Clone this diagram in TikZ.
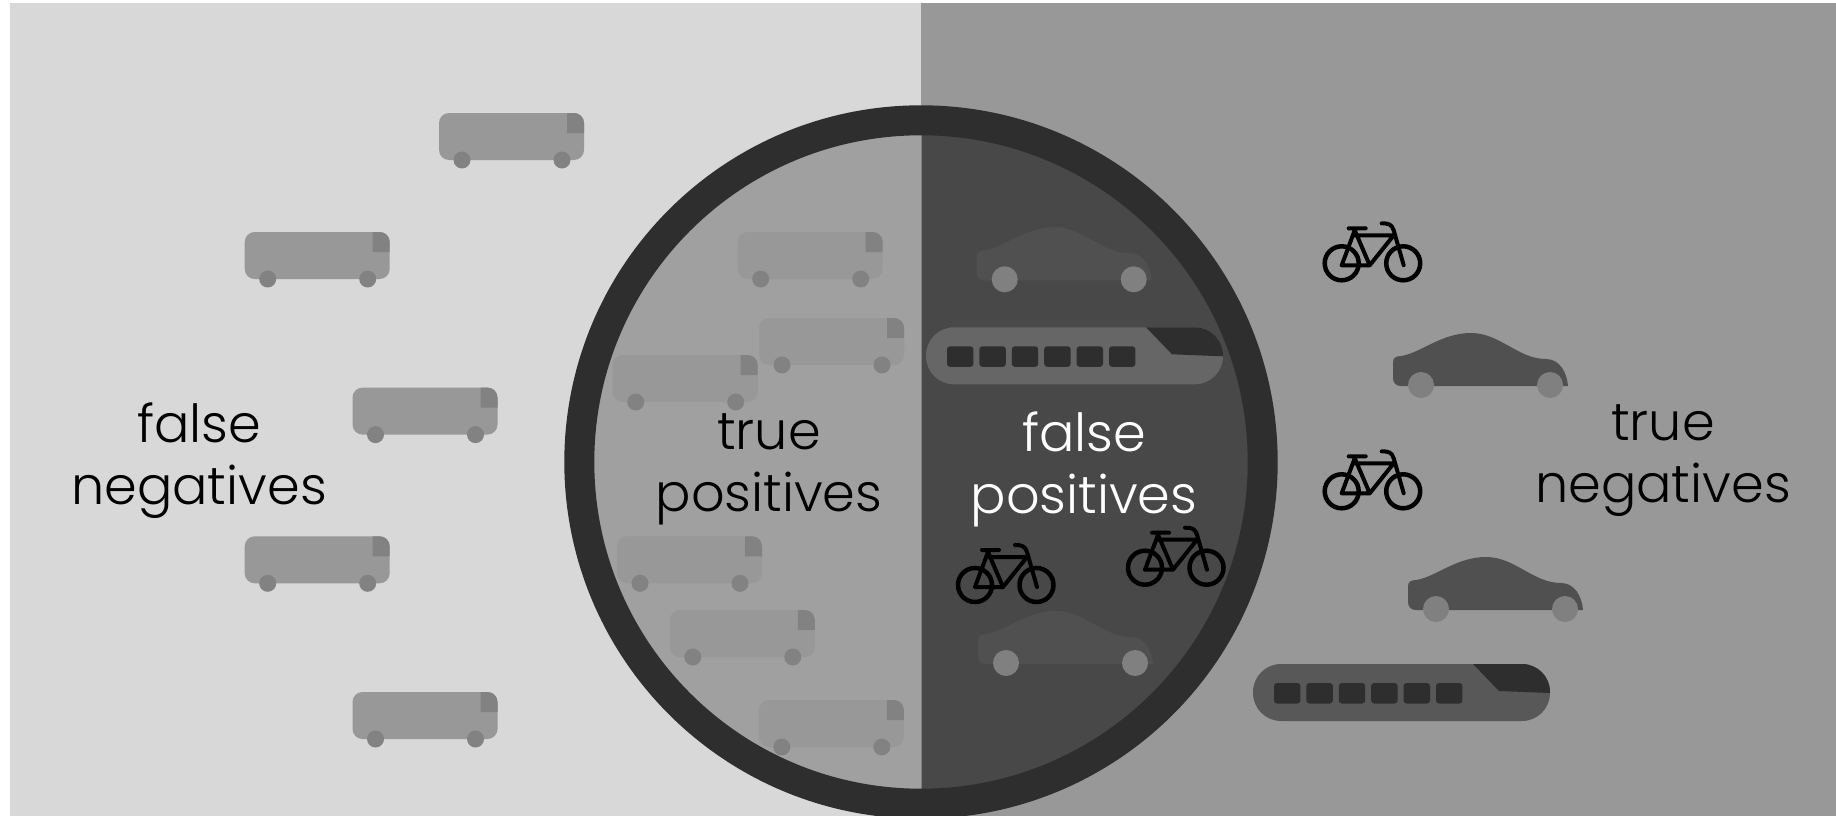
\documentclass[tikz,border=0pt]{standalone}
\usepackage{fontspec}
\setmainfont{Poppins Light}
\usepackage{xcolor}
\definecolor{panelL}{HTML}{D8D8D8}
\definecolor{panelR}{HTML}{989898}
\definecolor{lensL}{HTML}{A0A0A0}
\definecolor{lensR}{HTML}{484848}
\definecolor{ring}{HTML}{2E2E2E}
\definecolor{busBody}{HTML}{989898}
\definecolor{busDark}{HTML}{828282}
\definecolor{carBody}{HTML}{505050}
\definecolor{wheel}{HTML}{808080}
\definecolor{trainBody}{HTML}{666666}
\definecolor{trainBack}{HTML}{585858}

\tikzset{
    pics/bus/.style={code={
        \fill[busBody, rounded corners=10] (0,0) rectangle (145,47);
        \fill[busDark] (128,0) [rounded corners=10] -- (145,0) [sharp corners] -- (145,20) -- (128,20) -- cycle;
        \fill[busDark] (23,47) circle (8.5) (123,47) circle (8.5);
    }},
    pics/car/.style={code={
        \fill[carBody] (8,53) .. controls (3,53) and (0,50) .. (0,45) -- (0,29)
            .. controls (0,25) and (3,23) .. (8,23) .. controls (28,20) and (48,0) .. (78,0)
            .. controls (107,0) and (125,26) .. (153,26) .. controls (167,26) and (174,40) .. (175,53) -- cycle;
        \fill[wheel] (28,52) circle (13) (157,52) circle (13);
    }},
    pics/train/.style={code={
        \fill[#1, rounded corners=28] (0,0) rectangle (297,57);
        \begin{scope}
            \clip[rounded corners=28] (0,0) rectangle (297,57);
            \fill[ring] (220,0) -- (246,27) -- (297,29) -- (297,0) -- cycle;
        \end{scope}
        \foreach \i in {0,...,5}
            \fill[ring, rounded corners=3] (21+32.4*\i,19) rectangle +(26.4,20.5);
    }},
    pics/bike/.style={code={
        \draw[black, line width=4.5] (0,0) circle (17) (61.5,0) circle (17);
        \draw[black, line width=4, line join=round, line cap=round]
            (0,2) -- (28,2) -- (52,-28) -- (12,-28) (0,2) -- (13,-33) -- (28,2)
            (7,-35) -- (24,-35)
            (40,-40) .. controls (47,-40) and (50,-39) .. (52,-33) -- (62,2);
    }},
    label/.style={align=center, font=\fontsize{52.5}{62.5}\selectfont, inner sep=0pt}
}

\begin{document}
\begin{tikzpicture}[x=1pt, y=-1pt]
    \useasboundingbox (0,0) rectangle (1836,816);
    \fill[panelL] (10,3) rectangle (921,816);
    \fill[panelR] (920.5,3) rectangle (1836,816);

    \begin{scope}
        \clip (921,462) circle (330);
        \fill[lensL] (560,100) rectangle (921,816);
        \fill[lensR] (921,100) rectangle (1290,816);
        \draw[wheel, line width=1] (921,100) -- (921,816);
    \end{scope}
    \draw[ring, line width=30] (921,462) circle (341.7);

    % buses
    \foreach \bx/\by in {439/113, 244.7/232, 352.5/387.6, 244.7/536.3, 352.5/692,
        737.7/232, 759/318, 612.7/355, 617/536.3, 669.8/610, 758.8/700}
        \pic at (\bx,\by) {bus};

    % cars
    \foreach \bx/\by in {1393/333, 1408/557, 976.7/227.3, 978/611}
        \pic at (\bx,\by) {car};

    % trains
    \pic at (926,327.3) {train=trainBody};
    \pic at (1253,664) {train=trainBack};

    % bikes
    \foreach \bx/\by in {1341.7/263.3, 1341.7/491.3, 975/585, 1145/567.7}
        \pic at (\bx,\by) {bike};

    \node[label] (fn) at (199,460.5) {false\\negatives};
    \node[label] (tp) at (769,469.5) {true\\positives};
    \node[label, text=white] (fp) at (1084,469.5) {false\\positives};
    \node[label] (tn) at (1663,460.5) {true\\negatives};
\end{tikzpicture}
\end{document}
